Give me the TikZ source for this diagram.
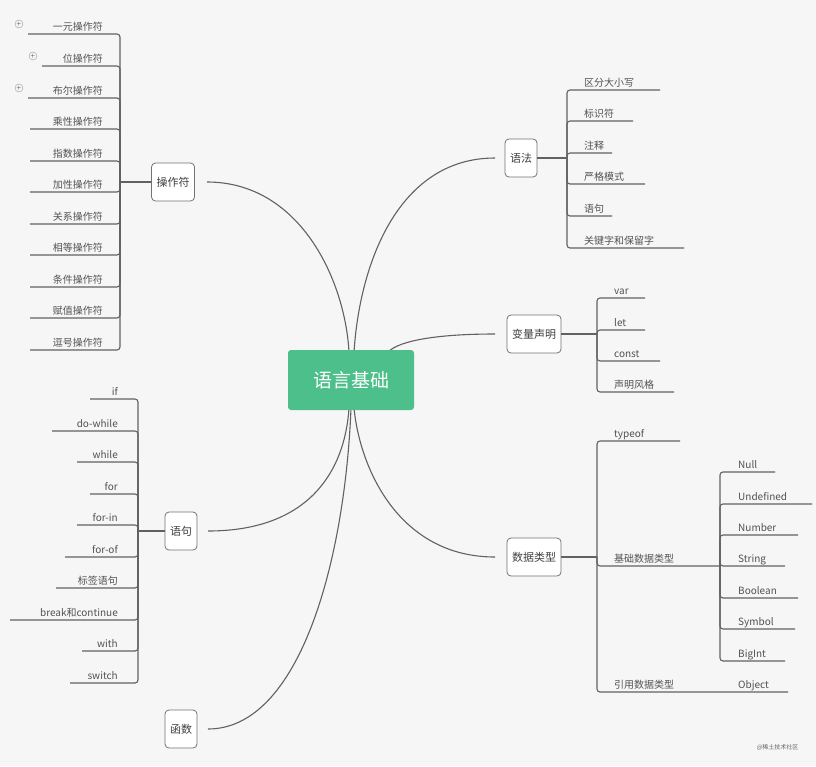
\documentclass[tikz,border=0pt]{standalone}
\usepackage{fontspec}
\setmainfont{Noto Sans CJK SC}
\definecolor{rootgreen}{RGB}{76,191,138}
\begin{document}
\begin{tikzpicture}[x=1pt,y=-1pt,
  ln/.style={draw=black!62,line width=1.1pt},
  br/.style={ln,rounded corners=3pt},
  lf/.style={text=black!68,font=\fontsize{10}{12}\selectfont,inner sep=0pt},
  topic/.style={draw=black!55,fill=white,rounded corners=4pt,minimum height=38pt,inner sep=5pt,text=black!75,font=\fontsize{11}{13}\selectfont,line width=0.8pt},
  plus/.style={circle,draw=black!40,inner sep=0pt,minimum size=8pt}]
\fill[black!3.5] (0,0) rectangle (816,766);
\useasboundingbox (0,0) rectangle (816,766);
% curves
\draw[ln] (207,182) .. controls (300,182) and (345,280) .. (349,352);
\draw[ln] (495,158) .. controls (400,158) and (360,260) .. (354,352);
\draw[ln] (495,334) .. controls (440,334) and (400,340) .. (388,352);
\draw[ln] (208,531) .. controls (310,531) and (345,470) .. (349,408);
\draw[ln] (495,557) .. controls (400,557) and (360,470) .. (354,408);
\draw[ln] (208,729) .. controls (300,729) and (345,560) .. (351,408);
% root
\node[fill=rootgreen,rounded corners=3pt,minimum width=126pt,minimum height=60pt,text=white,font=\fontsize{19}{22}\selectfont] (root) at (351,380) {语言基础};
% topics
\node[topic] (op) at (173,182) {操作符};
\node[topic] (yf) at (521,158) {语法};
\node[topic] (bl) at (534,334) {变量声明};
\node[topic] (yj) at (181,531) {语句};
\node[topic] (sj) at (534,557) {数据类型};
\node[topic] (hs) at (181,729) {函数};
% operator leaves
\draw[ln] (op.west) -- (120,182);
\foreach \y/\t/\s in {34/一元操作符/28,66/位操作符/42,98/布尔操作符/28,129/乘性操作符/30,161/指数操作符/30,192/加性操作符/30,224/关系操作符/30,255/相等操作符/30,287/条件操作符/30,318/赋值操作符/30,350/逗号操作符/30}{
  \draw[br] (120,182) |- (\s,\y);
  \node[lf,anchor=base east] at (103,\y-4) {\t};}
\node[plus] (p1) at (19,24) {\tiny$+$};
\node[plus] (p2) at (33,56) {\tiny$+$};
\node[plus] (p3) at (19,88) {\tiny$+$};
% grammar
\draw[ln] (yf.east) -- (567,158);
\foreach \y/\t/\e in {90/区分大小写/660,121/标识符/633,153/注释/612,184/严格模式/645,216/语句/612,248/关键字和保留字/684}{
  \draw[br] (567,158) |- (\e,\y);
  \node[lf,anchor=base west] at (584,\y-4) {\t};}
% variable
\draw[ln] (bl.east) -- (597,334);
\foreach \y/\t/\e in {298/var/645,330/let/645,361/const/660,392/声明风格/674}{
  \draw[br] (597,334) |- (\e,\y);
  \node[lf,anchor=base west] at (614,\y-4) {\t};}
% statements
\draw[ln] (yj.west) -- (138,531);
\foreach \y/\t/\s in {399/if/90,431/do-while/52,462/while/77,494/for/90,525/for-in/77,557/for-of/65,588/标签语句/56,620/break和continue/10,651/with/82,683/switch/70}{
  \draw[br] (138,531) |- (\s,\y);
  \node[lf,anchor=base east] at (118,\y-4) {\t};}
% data types
\draw[ln] (sj.east) -- (597,557);
\draw[br] (597,557) |- (680,441);
\node[lf,anchor=base west] at (614,437) {typeof};
\draw[br] (597,557) |- (720,566);
\node[lf,anchor=base west] at (614,562) {基础数据类型};
\draw[br] (597,557) |- (788,692);
\node[lf,anchor=base west] at (614,688) {引用数据类型};
\node[lf,anchor=base west] at (738,688) {Object};
\foreach \y/\t/\e in {472/Null/775,504/Undefined/812,535/Number/798,566/String/785,598/Boolean/798,629/Symbol/795,661/BigInt/785}{
  \draw[br] (720,566) |- (\e,\y);
  \node[lf,anchor=base west] at (738,\y-4) {\t};}
\node[text=black!60,font=\fontsize{6}{7}\selectfont,anchor=east] (wm) at (802,747) {@稀土技术社区};
\end{tikzpicture}
\end{document}
